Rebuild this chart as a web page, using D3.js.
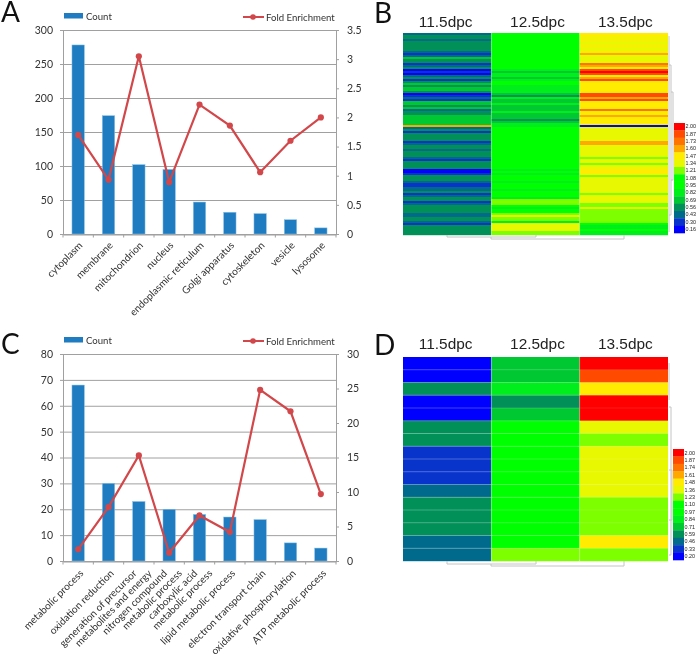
<!DOCTYPE html>
<html><head><meta charset="utf-8">
<script src="https://cdn.jsdelivr.net/npm/d3@7"></script>
<style>
html,body{margin:0;padding:0;background:#fff}
svg{display:block;filter:blur(0.4px)}
</style></head><body><div id="c"></div>
<script>
const cellCategoriesA=["cytoplasm","membrane","mitochondrion","nucleus","endoplasmic reticulum","Golgi apparatus","cytoskeleton","vesicle","lysosome"];
const countsA=[278,174,102,95,47,32,30,21,9];
const foldA=[1.7,0.93,3.05,0.89,2.22,1.86,1.06,1.6,2.0];
const countTicksA=[0,50,100,150,200,250,300];
const foldTicksA=[0,0.5,1,1.5,2,2.5,3,3.5];

const categoriesC=[["metabolic process"],["oxidation reduction"],["generation of precursor","metabolites and energy"],["nitrogen compound","metabolic process"],["carboxylic acid","metabolic process"],["lipid metabolic process"],["electron transport chain"],["oxidative phosphorylation"],["ATP metabolic process"]];
const countsC=[68,30,23,20,18,17,16,7,5];
const foldC=[1.7,7.8,15.3,1.2,6.6,4.2,24.8,21.7,9.7];
const countTicksC=[0,10,20,30,40,50,60,70,80];
const foldTicksC=[0,5,10,15,20,25,30];

const stages=["11.5dpc","12.5dpc","13.5dpc"];
const levelColors=["#ff0000","#ff4a00","#ff7400","#ffa800","#ffec00","#e8f800","#7eff00","#00ff00","#00ff00","#00ee1c","#00c832","#009058","#006a8c","#0834cc","#0000ff"];
const levelsB=["2.00","1.87","1.73","1.60","1.47","1.34","1.21","1.08","0.95","0.82","0.69","0.56","0.43","0.30","0.16"];
const levelsD=["2.00","1.87","1.74","1.61","1.48","1.36","1.23","1.10","0.97","0.84","0.71","0.59","0.46","0.33","0.20"];

const b115=[.43,.56,.56,.43,.56,.56,.56,.56,.56,.43,.30,.43,.69,.56,.56,.30,.43,.56,.16,.30,.16,.43,.56,.30,.56,.69,.56,.69,.69,.56,.16,.30,.43,.30,.69,.69,.56,.69,.43,.56,.56,.69,.69,.69,.69,.69,1.60,.43,.56,.30,.56,.56,.56,.56,.30,.43,.56,.56,.43,.56,.56,.56,.43,.30,.56,.56,.56,.56,.16,.16,.30,.56,.56,.56,.43,.30,.30,.43,.43,.56,.30,.43,.56,.56,.30,.43,.56,.56,.56,.56,.43,.43,.56,.56,.43,.30,.56,.56,.56,.56,.56];
const b125=[.95,.95,.95,.95,.95,.95,.95,.95,.95,.95,.95,.95,.95,.95,.95,.95,.95,.95,.82,.69,.82,.82,.69,.82,.95,.95,.82,.82,.82,.82,.69,.56,.82,.69,.69,.82,.69,.69,.69,.82,.69,.69,.69,.56,.69,.82,.82,.95,.95,.95,.95,.95,.95,.95,.95,.95,.95,.95,.95,.95,.95,.95,.95,.95,.95,.95,.95,.95,.82,.95,.82,.95,.95,.95,.82,.95,.95,.95,.82,.95,.95,.95,.82,1.21,1.21,1.21,.95,.82,.95,.95,1.21,1.34,1.21,1.21,.82,1.34,1.34,1.34,1.34,1.21,1.21];
const b135=[1.47,1.47,1.34,1.47,1.34,1.34,1.47,1.34,1.34,1.47,1.60,1.34,1.34,1.34,1.34,1.73,1.60,1.47,1.87,2.00,1.87,1.47,1.60,1.87,1.47,1.47,1.47,1.47,1.47,1.47,1.87,1.87,1.60,1.87,1.47,1.47,1.47,1.47,1.73,1.47,1.47,1.60,1.47,1.47,1.47,1.47,.16,1.34,1.34,1.34,1.34,1.34,1.34,1.34,1.60,1.60,1.34,1.34,1.34,1.34,1.34,1.34,1.21,1.34,1.34,1.21,1.34,1.34,1.47,1.47,1.47,1.21,1.34,1.34,1.34,1.34,1.34,1.34,1.34,1.34,1.21,1.34,1.34,1.34,1.34,1.21,1.21,1.34,1.21,1.21,1.21,1.21,1.21,1.21,1.21,.95,.82,.82,.95,.82,.82];

const d115=[.20,.20,.59,.20,.20,.59,.59,.33,.33,.33,.46,.59,.59,.59,.46,.46];
const d125=[.71,.71,.84,.59,.71,.97,.97,.97,.97,.97,.97,.97,.97,.97,.97,1.23];
const d135=[2.00,1.87,1.48,2.00,2.00,1.36,1.23,1.36,1.36,1.36,1.36,1.23,1.23,1.23,1.48,1.23];

const W=696,H=657;
const svg=d3.select("#c").append("svg").attr("width",W).attr("height",H).attr("viewBox",`0 0 ${W} ${H}`);
const chartFont="Lato, 'Open Sans', sans-serif", GRID="#a0a0a0", TXT="#333";

function combo(o){
  const g=svg.append("g");
  const x=d3.scaleBand().domain(d3.range(o.counts.length)).range([o.left,o.right]);
  const yL=d3.scaleLinear().domain(d3.extent(o.countTicks)).range([o.bottom,o.top]);
  const yR=d3.scaleLinear().domain(d3.extent(o.foldTicks)).range([o.bottom,o.top]);
  g.selectAll("line.grid").data(o.countTicks).join("line").attr("x1",o.left).attr("x2",o.right)
    .attr("y1",d=>yL(d)+.5).attr("y2",d=>yL(d)+.5).attr("stroke",GRID).attr("stroke-width",1);
  g.selectAll("rect.bar").data(o.counts).join("rect").attr("x",(d,i)=>x(i)+x.bandwidth()/2-6.2).attr("width",12.4)
    .attr("y",d=>yL(d)).attr("height",d=>o.bottom-yL(d)).attr("fill","#1f7cc0").attr("stroke","#8cc4e8").attr("stroke-width",.5);
  const axL=g.append("g").attr("transform",`translate(${o.left},0)`).call(d3.axisLeft(yL).tickValues(o.countTicks).tickSize(3).tickPadding(7));
  const axR=g.append("g").attr("transform",`translate(${o.right},0)`).call(d3.axisRight(yR).tickValues(o.foldTicks).tickSize(3).tickPadding(8).tickFormat(d3.format("~g")));
  const axB=g.append("g").attr("transform",`translate(0,${o.bottom+.5})`).call(d3.axisBottom(x).tickValues([]).tickSize(0));
  [axL,axR,axB].forEach(a=>{a.selectAll("path,line").attr("stroke",GRID);a.selectAll("text").attr("font-family",chartFont).attr("font-size",10.5).attr("fill",TXT);});
  g.selectAll("line.sep").data(d3.range(o.counts.length+1)).join("line")
    .attr("x1",i=>o.left+i*x.step()).attr("x2",i=>o.left+i*x.step()).attr("y1",o.bottom).attr("y2",o.bottom+3.5).attr("stroke",GRID);
  const line=d3.line().x((d,i)=>x(i)+x.bandwidth()/2).y(d=>yR(d));
  g.append("path").attr("d",line(o.fold)).attr("fill","none").attr("stroke","#d2474a").attr("stroke-width",2.2);
  g.selectAll("circle.pt").data(o.fold).join("circle").attr("cx",(d,i)=>x(i)+x.bandwidth()/2).attr("cy",d=>yR(d)).attr("r",3.1).attr("fill","#d2474a");
  o.labels.forEach((lines,i)=>{
    lines.forEach((s,k)=>{
      const off=lines.length>1?(k-.5)*15:0;
      g.append("text").attr("transform",`translate(${x(i)+x.bandwidth()/2+o.labelDx+off},${o.bottom+o.labelDy}) rotate(-45)`).attr("text-anchor","end")
        .attr("font-family",chartFont).attr("font-size",10.1).attr("fill",TXT).text(s);
    });
  });
  g.append("rect").attr("x",64).attr("y",o.legendY-3).attr("width",19).attr("height",5.5).attr("fill","#1f7cc0");
  g.append("text").attr("x",86).attr("y",o.legendY+3.5).text("Count").attr("font-family",chartFont).attr("font-size",9.6).attr("fill",TXT);
  g.append("line").attr("x1",243).attr("x2",264).attr("y1",o.legendY+1).attr("y2",o.legendY+1).attr("stroke","#d2474a").attr("stroke-width",2);
  g.append("circle").attr("cx",253).attr("cy",o.legendY+1).attr("r",2.8).attr("fill","#d2474a");
  g.append("text").attr("x",266).attr("y",o.legendY+4.5).text("Fold Enrichment").attr("font-family",chartFont).attr("font-size",9.6).attr("fill",TXT);
}
combo({counts:countsA,fold:foldA,countTicks:countTicksA,foldTicks:foldTicksA,labels:cellCategoriesA.map(s=>[s]),left:63,right:336,top:30,bottom:234,legendY:16,labelDx:5,labelDy:12});
combo({counts:countsC,fold:foldC,countTicks:countTicksC,foldTicks:foldTicksC,labels:categoriesC,left:63,right:336,top:354,bottom:561,legendY:340,labelDx:6,labelDy:13});

function heat(o){
  const g=svg.append("g").attr("style","filter:blur(0.45px)");
  const x=d3.scaleBand().domain(stages).range([o.left,o.right]);
  const y=d3.scaleBand().domain(d3.range(o.cols[0].length)).range([o.top,o.bottom]);
  const color=d3.scaleOrdinal().domain(o.levels.map(Number)).range(levelColors);
  stages.forEach((s,c)=>{
    g.selectAll(`rect.c${c}`).data(o.cols[c]).join("rect").attr("x",x(s)).attr("width",x.bandwidth())
      .attr("y",(d,i)=>y(i)).attr("height",y.bandwidth()+.2).attr("fill",d=>color(d));
    if(o.rowLines) g.selectAll(`line.r${c}`).data(d3.range(1,o.cols[c].length)).join("line")
      .attr("x1",o.left).attr("x2",o.right).attr("y1",i=>y(i)).attr("y2",i=>y(i)).attr("stroke","#fff").attr("stroke-opacity",.12).attr("stroke-width",.8);
    g.append("text").attr("x",x(s)+x.bandwidth()/2+o.headDx[c]).attr("y",o.headY).attr("text-anchor","middle")
      .attr("font-family","'Liberation Sans',Arial,sans-serif").attr("font-size",15.4).attr("fill","#222").text(s);
    if(c>0) g.append("line").attr("x1",x(s)).attr("x2",x(s)).attr("y1",o.top).attr("y2",o.bottom).attr("stroke","#fff").attr("stroke-opacity",.35).attr("stroke-width",.7);
  });
  const ly=d3.scaleBand().domain(o.levels).range([o.barTop,o.barBottom]);
  g.selectAll("rect.lg").data(o.levels).join("rect").attr("x",o.barX).attr("width",11).attr("y",d=>ly(d)).attr("height",ly.bandwidth()+.3).attr("fill",(d,i)=>levelColors[i]);
  g.selectAll("text.lg").data(o.levels).join("text").attr("x",o.barX+11.6).attr("y",d=>ly(d)+ly.bandwidth()/2+1.8).attr("font-family","'Liberation Sans',Arial,sans-serif").attr("font-size",5.4).attr("fill","#222").text(d=>d);
  g.append("path").attr("d",o.dendro).attr("fill","none").attr("stroke","#c4c4c4").attr("stroke-width",1);
}
heat({cols:[b115,b125,b135],levels:levelsB,left:403,right:668,top:33,bottom:235,headY:27,headDx:[-1.5,2,1.5],rowLines:false,barX:674,barTop:123,barBottom:233,
  dendro:"M447 235V237H536V235M491 237V239H624V235M669 36V232M669 65H671V215H669M671 92H673V180H671"});
heat({cols:[d115,d125,d135],levels:levelsD,left:403,right:668,top:357,bottom:561,headY:349,headDx:[-1.5,2,1.5],rowLines:true,barX:673,barTop:449,barBottom:560,
  dendro:"M447 561V564H536V561M491 564V566H624V561M669 363V400M671 407V555H669M669 407H671M669 470H672V520H669"});

[["A",1,22],["B",374,23],["C",1,354],["D",374,355]].forEach(([s,px,py])=>{
  svg.append("text").attr("x",px).attr("y",py).attr("font-family",chartFont).attr("font-size",28).attr("fill","#111").text(s);
});
</script></body></html>
